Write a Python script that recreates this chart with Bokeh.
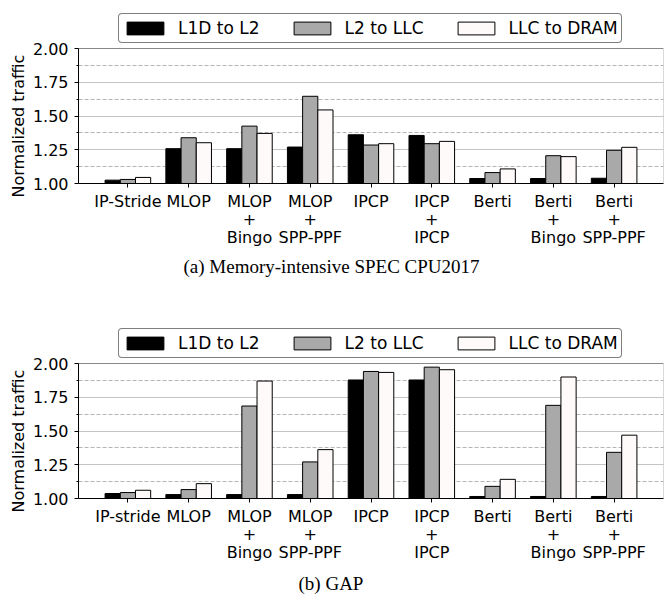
from bokeh.plotting import figure
from bokeh.layouts import column
from bokeh.models import (Range1d, FixedTicker, NumeralTickFormatter, Legend, LegendItem,
                          Title, ColumnDataSource, BoxAnnotation)
from bokeh.embed import file_html
from bokeh.resources import INLINE

# ---------------- data ----------------
labels_spec = ["IP-Stride", "MLOP", "MLOP\n+\nBingo", "MLOP\n+\nSPP-PPF", "IPCP",
               "IPCP\n+\nIPCP", "Berti", "Berti\n+\nBingo", "Berti\n+\nSPP-PPF"]
labels_gap = ["IP-stride", "MLOP", "MLOP\n+\nBingo", "MLOP\n+\nSPP-PPF", "IPCP",
              "IPCP\n+\nIPCP", "Berti", "Berti\n+\nBingo", "Berti\n+\nSPP-PPF"]
series_names = ["L1D to L2", "L2 to LLC", "LLC to DRAM"]

spec_l1d_l2 = [1.025, 1.258, 1.258, 1.270, 1.361, 1.356, 1.037, 1.037, 1.039]
spec_l2_llc = [1.030, 1.339, 1.425, 1.646, 1.285, 1.295, 1.081, 1.206, 1.246]
spec_llc_dram = [1.045, 1.302, 1.371, 1.545, 1.295, 1.312, 1.108, 1.199, 1.268]

gap_l1d_l2 = [1.037, 1.029, 1.029, 1.029, 1.878, 1.878, 1.015, 1.015, 1.015]
gap_l2_llc = [1.044, 1.066, 1.685, 1.271, 1.941, 1.973, 1.090, 1.690, 1.342]
gap_llc_dram = [1.061, 1.110, 1.870, 1.362, 1.934, 1.954, 1.142, 1.900, 1.469]

y_ticks = [1.0, 1.25, 1.5, 1.75, 2.0]
y_minor = [1.125, 1.375, 1.625, 1.875]
y_min, y_max = 1.0, 2.0
y_title = "Normalized traffic"

caption_a = "(a) Memory-intensive SPEC CPU2017"
caption_b = "(b) GAP"

# ---------------- style ----------------
FONT = "DejaVu Sans"
SERIF = "Liberation Serif"
COLORS = ["#000000", "#a9a9a9", "#fffafa"]
OFFSETS = [-0.25, 0.0, 0.25]
BAR_W = 0.25
PX_PER_UNIT = 135.0   # plotted height of the 1.0 .. 2.0 value span


def make_panel(labels, series, caption, cap_offset, cap_standoff, height, head_px,
               bottom_border):
    n = len(labels)
    # the frame also holds the legend strip above the 2.00 line
    y_top = y_max + head_px / PX_PER_UNIT
    p = figure(width=664, height=height, output_backend="svg", toolbar_location=None,
               x_range=Range1d(-0.8125, n - 1 + 0.8125), y_range=Range1d(y_min, y_top),
               min_border_left=78, min_border_right=1, min_border_top=0,
               min_border_bottom=bottom_border)
    p.background_fill_color = "white"
    p.border_fill_color = "white"
    p.outline_line_color = None

    # visible plot box (1.00 .. 2.00)
    p.add_layout(BoxAnnotation(bottom=y_min, top=y_max, fill_alpha=0,
                               line_color="black", line_width=1, level="overlay"))

    items = []
    for k, vals in enumerate(series):
        src = ColumnDataSource(dict(x=[i + OFFSETS[k] for i in range(n)], top=vals))
        r = p.vbar(x="x", top="top", bottom=y_min, width=BAR_W, source=src,
                   fill_color=COLORS[k], line_color="black", line_width=1)
        items.append(LegendItem(label=series_names[k], renderers=[r]))

    # axes
    xa = p.xaxis[0]
    xa.ticker = FixedTicker(ticks=list(range(n)), minor_ticks=[])
    xa.major_label_overrides = {i: labels[i] for i in range(n)}
    xa.major_label_text_font = FONT
    xa.major_label_text_font_size = "16px"
    xa.major_label_text_color = "black"
    xa.major_label_text_line_height = 0.95
    xa.major_tick_out = 4
    xa.major_tick_in = 0
    xa.major_label_standoff = 4
    xa.axis_line_color = "black"
    xa.major_tick_line_color = "black"

    ya = p.yaxis[0]
    ya.bounds = (y_min, y_max)
    ya.ticker = FixedTicker(ticks=y_ticks, minor_ticks=y_minor)
    ya.formatter = NumeralTickFormatter(format="0.00")
    ya.major_label_text_font = FONT
    ya.major_label_text_font_size = "16px"
    ya.major_label_text_color = "black"
    ya.major_tick_out = 4
    ya.major_tick_in = 0
    ya.minor_tick_out = 2
    ya.minor_tick_in = 0
    ya.major_label_standoff = 6
    ya.axis_line_color = "black"

    # y-axis title, centred on the 1.00 .. 2.00 box
    yt = Title(text=y_title, align="left", offset=-14, text_font=FONT,
               text_font_size="16px", text_font_style="normal", text_color="black",
               standoff=4)
    p.add_layout(yt, "left")

    p.xgrid.grid_line_color = None
    p.ygrid.grid_line_color = "#c4c4c4"
    p.ygrid.grid_line_width = 1
    p.ygrid.minor_grid_line_color = "#b4b4b4"
    p.ygrid.minor_grid_line_dash = "4 2"
    p.ygrid.minor_grid_line_width = 1

    legend = Legend(items=items, orientation="horizontal", location=(40, 140),
                    label_text_font=FONT, label_text_font_size="17px",
                    label_text_color="black",
                    glyph_width=46, glyph_height=16, label_standoff=10,
                    label_height=22, spacing=29, padding=3, margin=0,
                    border_line_color="black", border_line_width=1,
                    background_fill_color="white", background_fill_alpha=1)
    try:
        legend.border_radius = 4
    except Exception:
        pass
    p.add_layout(legend, "center")

    t = Title(text=caption, align="left", offset=cap_offset, text_font=SERIF,
              text_font_size="19px", text_font_style="normal", text_color="black",
              standoff=cap_standoff)
    p.add_layout(t, "below")
    return p


p1 = make_panel(labels_spec, [spec_l1d_l2, spec_l2_llc, spec_llc_dram], caption_a, 105, 8,
                300, 48, 117)
p2 = make_panel(labels_gap, [gap_l1d_l2, gap_l2_llc, gap_llc_dram], caption_b, 220, 13,
                300, 63, 102)

layout = column(p1, p2, spacing=0)
open("out.html", "w").write(file_html(layout, INLINE))
